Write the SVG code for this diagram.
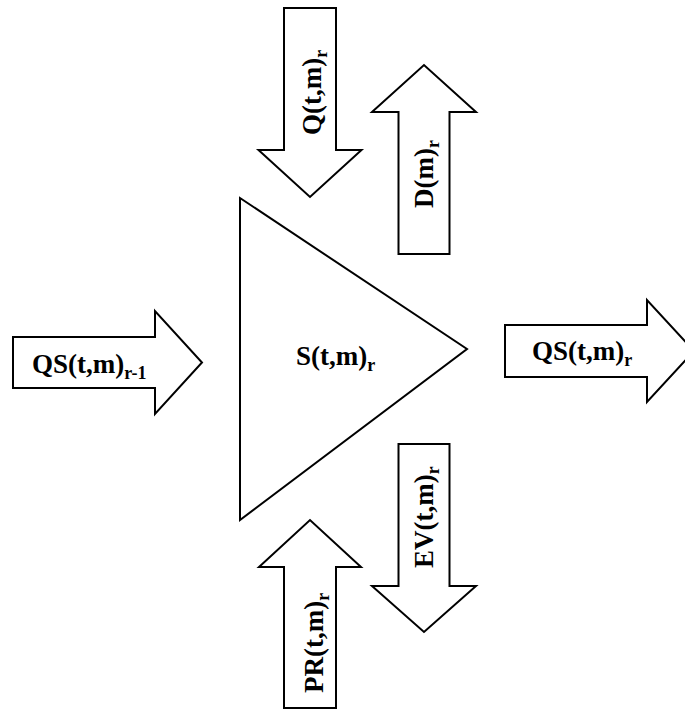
<svg xmlns="http://www.w3.org/2000/svg" width="685" height="710" viewBox="0 0 685 710">
  <style>
    .shape { fill: #ffffff; stroke: #000000; stroke-width: 2; stroke-linejoin: miter; }
    .lbl { font-family: "Liberation Serif", "Times New Roman", serif; font-weight: bold; font-size: 27px; fill: #000000; }
    .sub { font-size: 18px; }
  </style>
  <rect x="0" y="0" width="685" height="710" fill="#ffffff"/>

  <!-- storage node -->
  <g id="storage">
    <polygon class="shape" points="240,198 467,349 240,520"/>
    <text class="lbl" x="296" y="365">S(t,m)<tspan class="sub" dy="6">r</tspan></text>
  </g>

  <g id="flows">
    <!-- inflow from upstream reach -->
    <g id="inflow-upstream">
      <polygon class="shape" points="13,337 155,337 155,311 202,362.5 155,414 155,388 13,388"/>
      <text class="lbl" x="32" y="373">QS(t,m)<tspan class="sub" dy="6">r-1</tspan></text>
    </g>

    <!-- outflow to downstream reach -->
    <g id="outflow-downstream">
      <polygon class="shape" points="505,325 647,325 647,300 694,351 647,402 647,377 505,377"/>
      <text class="lbl" x="532" y="360">QS(t,m)<tspan class="sub" dy="6">r</tspan></text>
    </g>

    <!-- lateral inflow -->
    <g id="inflow-lateral">
      <polygon class="shape" points="284,8 336,8 336,150 361.5,150 310,197 258.5,150 284,150"/>
      <text class="lbl" transform="translate(321,135) rotate(-90)">Q(t,m)<tspan class="sub" dy="6">r</tspan></text>
    </g>

    <!-- demand withdrawal -->
    <g id="demand">
      <polygon class="shape" points="398.5,254 449.5,254 449.5,112 476,112 424,65 372,112 398.5,112"/>
      <text class="lbl" transform="translate(433,208) rotate(-90)">D(m)<tspan class="sub" dy="6">r</tspan></text>
    </g>

    <!-- evaporation -->
    <g id="evaporation">
      <polygon class="shape" points="398.5,444 449.5,444 449.5,586 476,586 424,632 372,586 398.5,586"/>
      <text class="lbl" transform="translate(433,568) rotate(-90)">EV(t,m)<tspan class="sub" dy="6">r</tspan></text>
    </g>

    <!-- precipitation -->
    <g id="precipitation">
      <polygon class="shape" points="284,708 336,708 336,567 361,567 310,520 259,567 284,567"/>
      <text class="lbl" transform="translate(323,693) rotate(-90)">PR(t,m)<tspan class="sub" dy="6">r</tspan></text>
    </g>
  </g>
</svg>
